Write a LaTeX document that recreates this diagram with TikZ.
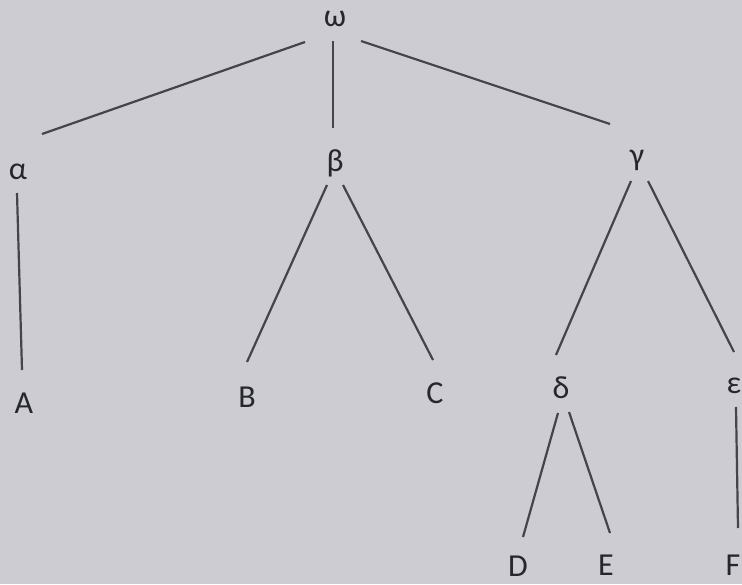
\documentclass[tikz,border=0pt]{standalone}
\usepackage{fontspec}
\setmainfont{Carlito}
\definecolor{paper}{RGB}{204,204,210}
\definecolor{ink}{RGB}{38,38,45}
\definecolor{lineink}{RGB}{68,68,76}
\begin{document}
\begin{tikzpicture}[x=1pt,y=-1pt,
  lbl/.style={inner sep=0pt,text=ink,font=\fontsize{32}{38}\selectfont},
  edge/.style={draw=lineink,line width=2.2pt}]
\useasboundingbox (0,0) rectangle (742,584);
\fill[paper] (0,0) rectangle (742,584);
% labels
\node[lbl] (w) at (335,19) {ω};
\node[lbl] (al) at (18,172) {α};
\node[lbl] (be) at (335,163) {β};
\node[lbl] (ga) at (637,160) {γ};
\node[lbl] (A) at (24,403) {A};
\node[lbl] (B) at (247,397) {B};
\node[lbl] (C) at (435,393) {C};
\node[lbl] (de) at (561,388) {δ};
\node[lbl] (ep) at (734,386) {ε};
\node[lbl] (D) at (518,566) {D};
\node[lbl] (E) at (606,565) {E};
\node[lbl] (F) at (733,565) {F};
% connector end points
\coordinate (w-al1) at (305,42);  \coordinate (w-al2) at (42,134);
\coordinate (w-be1) at (333,41);  \coordinate (w-be2) at (333,128);
\coordinate (w-ga1) at (361,41);  \coordinate (w-ga2) at (610,124);
\coordinate (al-A1) at (17,193);  \coordinate (al-A2) at (22,370);
\coordinate (be-B1) at (327,185); \coordinate (be-B2) at (247,362);
\coordinate (be-C1) at (343,185); \coordinate (be-C2) at (433,360);
\coordinate (ga-de1) at (631,181); \coordinate (ga-de2) at (556,355);
\coordinate (ga-ep1) at (648,181); \coordinate (ga-ep2) at (734,352);
\coordinate (de-D1) at (558,413); \coordinate (de-D2) at (523,537);
\coordinate (de-E1) at (569,412); \coordinate (de-E2) at (610,533);
\coordinate (ep-F1) at (736,407); \coordinate (ep-F2) at (738,528);
% connectors
\draw[edge] (w-al1) -- (w-al2);
\draw[edge] (w-be1) -- (w-be2);
\draw[edge] (w-ga1) -- (w-ga2);
\draw[edge] (al-A1) -- (al-A2);
\draw[edge] (be-B1) -- (be-B2);
\draw[edge] (be-C1) -- (be-C2);
\draw[edge] (ga-de1) -- (ga-de2);
\draw[edge] (ga-ep1) -- (ga-ep2);
\draw[edge] (de-D1) -- (de-D2);
\draw[edge] (de-E1) -- (de-E2);
\draw[edge] (ep-F1) -- (ep-F2);
\end{tikzpicture}
\end{document}
